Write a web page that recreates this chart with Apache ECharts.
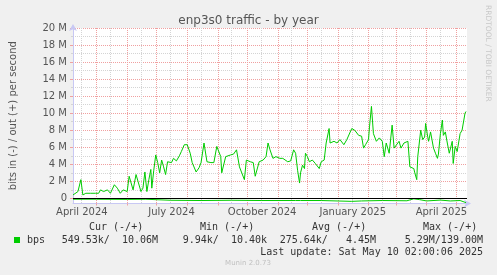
<!DOCTYPE html>
<html>
<head>
<meta charset="utf-8">
<script src="https://cdn.jsdelivr.net/npm/echarts@6/dist/echarts.min.js"></script>
<style>
  html, body { margin: 0; padding: 0; background: #f0f0f0; }
  #chart { width: 497px; height: 275px; }
</style>
</head>
<body>
<div id="chart"></div>
<script>
// munin yearly traffic graph, values in Mbit/s
const outDates = [
  '2024-04-07','2024-04-12','2024-04-15','2024-04-17','2024-04-20','2024-04-25','2024-04-30',
  '2024-05-03','2024-05-05','2024-05-08','2024-05-12','2024-05-15','2024-05-19','2024-05-22','2024-05-23','2024-05-25','2024-05-28',
  '2024-06-01','2024-06-03','2024-06-05','2024-06-07','2024-06-10','2024-06-12','2024-06-15','2024-06-17','2024-06-19','2024-06-21',
  '2024-06-23','2024-06-25','2024-06-26','2024-06-28','2024-06-30',
  '2024-07-02','2024-07-04','2024-07-06','2024-07-08','2024-07-10','2024-07-12','2024-07-14','2024-07-16','2024-07-18','2024-07-21',
  '2024-07-24','2024-07-26','2024-07-29',
  '2024-08-01','2024-08-04','2024-08-06','2024-08-10','2024-08-13','2024-08-15','2024-08-18','2024-08-21','2024-08-25','2024-08-28','2024-08-31',
  '2024-09-04','2024-09-05','2024-09-09','2024-09-14','2024-09-17','2024-09-20','2024-09-23','2024-09-25','2024-09-28','2024-09-30',
  '2024-10-04','2024-10-07','2024-10-09','2024-10-13','2024-10-17','2024-10-20','2024-10-22','2024-10-24','2024-10-27','2024-10-30',
  '2024-11-03','2024-11-06','2024-11-11','2024-11-14','2024-11-17','2024-11-19','2024-11-21','2024-11-23','2024-11-24','2024-11-26',
  '2024-11-28','2024-11-29',
  '2024-12-01','2024-12-03','2024-12-06','2024-12-09','2024-12-11','2024-12-13','2024-12-15','2024-12-18','2024-12-20','2024-12-22',
  '2024-12-23','2024-12-24','2024-12-28','2024-12-31',
  '2025-01-03','2025-01-07','2025-01-10','2025-01-12','2025-01-15','2025-01-18','2025-01-22','2025-01-25','2025-01-27','2025-01-29',
  '2025-02-01','2025-02-02','2025-02-04','2025-02-06','2025-02-09','2025-02-12','2025-02-15','2025-02-17','2025-02-19','2025-02-22',
  '2025-02-25','2025-02-27',
  '2025-03-01','2025-03-04','2025-03-06','2025-03-09','2025-03-13','2025-03-14','2025-03-15','2025-03-19','2025-03-20','2025-03-22',
  '2025-03-23','2025-03-26','2025-03-28','2025-03-30','2025-03-31',
  '2025-04-02','2025-04-03','2025-04-05','2025-04-08','2025-04-10','2025-04-12','2025-04-13','2025-04-15','2025-04-17','2025-04-18',
  '2025-04-20','2025-04-22','2025-04-24','2025-04-27','2025-04-28','2025-04-30',
  '2025-05-02','2025-05-05','2025-05-07','2025-05-08','2025-05-10','2025-05-11'
];
const outValues = [
  0.4,0.8,2.2,0.4,0.6,0.6,0.6,
  0.6,1.0,0.8,1.0,0.6,1.6,1.2,1.4,0.6,1.0,
  0.8,2.6,2.4,1.0,2.8,2.0,0.8,1.2,3.1,0.8,
  2.2,3.4,1.2,3.3,5.1,
  4.2,3.0,4.5,3.7,2.8,4.3,4.5,4.2,4.7,4.4,
  5.0,5.5,6.3,
  6.3,5.3,4.2,3.1,3.6,4.2,6.5,4.3,4.2,4.2,6.1,
  4.9,3.0,4.9,5.1,5.2,5.7,3.7,3.5,2.2,4.5,
  4.3,4.2,2.6,4.3,4.5,4.9,6.5,5.7,4.7,4.9,
  4.7,4.7,4.3,4.4,5.7,5.3,3.3,1.8,3.0,3.9,
  3.5,5.3,
  4.9,4.3,4.5,4.1,3.9,3.5,4.3,4.5,6.5,6.4,
  8.2,6.5,6.7,6.5,
  6.9,6.3,6.9,7.1,8.2,8.0,7.4,7.3,5.9,6.3,
  6.9,8.4,10.8,7.6,6.7,7.1,6.7,4.9,6.5,5.3,
  8.6,5.9,
  6.1,6.7,5.9,6.5,6.7,6.5,3.7,3.5,3.0,2.2,
  4.9,8.0,6.9,7.2,8.8,
  7.3,6.7,7.8,5.9,5.3,4.7,5.2,7.6,9.2,7.4,
  7.8,6.5,5.3,6.7,4.1,6.1,
  5.5,7.6,8.0,7.8,10.0,10.2
];
const inDates = [
  '2024-04-07','2024-05-01','2024-06-01','2024-06-20','2024-06-22','2024-07-15','2024-08-15','2024-09-15',
  '2024-10-15','2024-11-19','2024-11-21','2024-11-24','2024-12-15','2025-01-15','2025-01-25','2025-02-15',
  '2025-03-12','2025-03-19','2025-03-25','2025-04-01','2025-04-15','2025-04-25','2025-05-05','2025-05-11'
];
const inValues = [
  -0.1,-0.1,-0.12,-0.1,-0.22,-0.22,-0.25,-0.22,
  -0.25,-0.25,-0.1,-0.25,-0.25,-0.35,-0.3,-0.25,
  -0.28,-0.05,-0.15,-0.3,-0.2,-0.3,-0.25,-0.5
];
const yMajorTicks = [0, 2, 4, 6, 8, 10, 12, 14, 16, 18, 20];
const yMinorTicks = [1, 3, 5, 7, 9, 11, 13, 15, 17, 19];
const monthNames = ['January','February','March','April','May','June','July','August','September','October','November','December'];
const labelMonths = [0, 3, 6, 9];

// one category per day for the time grid, 2024-04-07 .. 2025-05-12
const pad = n => (n < 10 ? '0' : '') + n;
const days = [];
for (let i = 0; i <= 400; i++) {
  const d = new Date(2024, 3, 7 + i);
  days.push(d.getFullYear() + '-' + pad(d.getMonth() + 1) + '-' + pad(d.getDate()));
}
const dayOf = v => +v.slice(8, 10);
const monthOf = v => +v.slice(5, 7) - 1;

const chart = echarts.init(document.getElementById('chart'));
const textColor = '#555';
const majorColor = '#f0a0a0';
const minorColor = '#d4d4d4';
const axisColor = '#c8c8f4';

chart.setOption({
  animation: false,
  backgroundColor: '#f0f0f0',
  title: {
    text: 'enp3s0 traffic - by year',
    left: 'center',
    top: 10,
    textStyle: { fontFamily: 'DejaVu Sans', fontSize: 12, fontWeight: 'normal', color: textColor }
  },
  grid: { left: 67, right: 30, top: 28, bottom: 71.5, show: true, backgroundColor: '#fff', borderWidth: 0 },
  xAxis: [
    {
      type: 'time',
      min: +new Date(2024, 3, 7),
      max: +new Date(2025, 4, 12),
      show: false
    },
    {
      type: 'category', data: days, boundaryGap: false, position: 'bottom',
      axisLine: { show: false },
      axisTick: { show: true, length: 2, interval: (i, v) => dayOf(v) === 15, lineStyle: { color: minorColor } },
      axisLabel: { show: false },
      splitLine: { show: true, interval: (i, v) => dayOf(v) === 15, lineStyle: { color: minorColor, type: 'dotted' } }
    },
    {
      type: 'category', data: days, boundaryGap: false, position: 'bottom',
      axisLine: { show: true, symbol: ['none', 'arrow'], symbolSize: [6, 7], symbolOffset: [0, 4], lineStyle: { color: axisColor } },
      axisTick: { show: true, length: 2, interval: (i, v) => dayOf(v) === 1, lineStyle: { color: majorColor } },
      axisLabel: {
        interval: (i, v) => dayOf(v) === 16 && labelMonths.indexOf(monthOf(v)) >= 0,
        formatter: v => monthNames[monthOf(v)] + ' ' + v.slice(0, 4),
        margin: 4,
        color: textColor, fontFamily: 'DejaVu Sans', fontSize: 10
      },
      splitLine: { show: true, interval: (i, v) => dayOf(v) === 1, lineStyle: { color: majorColor, type: 'dotted' } }
    }
  ],
  yAxis: [
    {
      type: 'value', min: -0.6, max: 20,
      axisLine: { show: false },
      axisTick: { show: true, length: 2, customValues: yMinorTicks, lineStyle: { color: minorColor } },
      axisLabel: { show: false, customValues: yMinorTicks },
      splitLine: { show: true, lineStyle: { color: minorColor, type: 'dotted' } }
    },
    {
      type: 'value', min: -0.6, max: 20, position: 'left',
      name: 'bits in (-) / out (+) per second',
      nameLocation: 'middle', nameGap: 55,
      nameTextStyle: { color: textColor, fontFamily: 'DejaVu Sans', fontSize: 10 },
      axisLine: { show: true, symbol: ['none', 'arrow'], symbolSize: [6, 7], symbolOffset: [0, 4], lineStyle: { color: axisColor } },
      axisTick: { show: true, length: 3, customValues: yMajorTicks, lineStyle: { color: majorColor } },
      axisLabel: {
        customValues: yMajorTicks,
        formatter: v => (v === 0 ? '0' : v + ' M'),
        margin: 6,
        color: textColor, fontFamily: 'DejaVu Sans', fontSize: 10
      },
      splitLine: { show: true, lineStyle: { color: majorColor, type: 'dotted' } }
    }
  ],
  series: [
    {
      name: 'out', type: 'line', xAxisIndex: 0, yAxisIndex: 1,
      data: outDates.map((d, i) => [d, outValues[i]]),
      showSymbol: false, symbol: 'none',
      lineStyle: { color: '#00cc00', width: 1 },
      markLine: {
        silent: true, symbol: 'none', label: { show: false },
        lineStyle: { color: '#000', width: 1, type: 'solid' },
        data: [{ yAxis: 0 }]
      }
    },
    {
      name: 'in', type: 'line', xAxisIndex: 0, yAxisIndex: 1,
      data: inDates.map((d, i) => [d, inValues[i]]),
      showSymbol: false, symbol: 'none',
      lineStyle: { color: '#00cc00', width: 1 }
    }
  ],
  graphic: [
    {
      type: 'text', x: 488, y: 5, rotation: -Math.PI / 2,
      style: { text: 'RRDTOOL / TOBI OETIKER', fontFamily: 'DejaVu Sans', fontSize: 7.5, fill: '#c8c8c8', textAlign: 'left', textVerticalAlign: 'middle' }
    },
    { type: 'text', x: 89, y: 227, style: { text: 'Cur (-/+)', font: '10px "DejaVu Sans Mono"', fill: '#333', textVerticalAlign: 'middle' } },
    { type: 'text', x: 200, y: 227, style: { text: 'Min (-/+)', font: '10px "DejaVu Sans Mono"', fill: '#333', textVerticalAlign: 'middle' } },
    { type: 'text', x: 312, y: 227, style: { text: 'Avg (-/+)', font: '10px "DejaVu Sans Mono"', fill: '#333', textVerticalAlign: 'middle' } },
    { type: 'text', x: 423, y: 227, style: { text: 'Max (-/+)', font: '10px "DejaVu Sans Mono"', fill: '#333', textVerticalAlign: 'middle' } },
    { type: 'rect', shape: { x: 14, y: 237, width: 6, height: 6 }, style: { fill: '#00cc00' } },
    { type: 'text', x: 27, y: 240, style: { text: 'bps', font: '10px "DejaVu Sans Mono"', fill: '#333', textVerticalAlign: 'middle' } },
    { type: 'text', x: 158, y: 240, style: { text: '549.53k/  10.06M', font: '10px "DejaVu Sans Mono"', fill: '#333', textAlign: 'right', textVerticalAlign: 'middle' } },
    { type: 'text', x: 267, y: 240, style: { text: '9.94k/  10.40k', font: '10px "DejaVu Sans Mono"', fill: '#333', textAlign: 'right', textVerticalAlign: 'middle' } },
    { type: 'text', x: 376, y: 240, style: { text: '275.64k/   4.45M', font: '10px "DejaVu Sans Mono"', fill: '#333', textAlign: 'right', textVerticalAlign: 'middle' } },
    { type: 'text', x: 483, y: 240, style: { text: '5.29M/139.00M', font: '10px "DejaVu Sans Mono"', fill: '#333', textAlign: 'right', textVerticalAlign: 'middle' } },
    { type: 'text', x: 483, y: 252, style: { text: 'Last update: Sat May 10 02:00:06 2025', font: '10px "DejaVu Sans Mono"', fill: '#333', textAlign: 'right', textVerticalAlign: 'middle' } },
    { type: 'text', x: 248, y: 263, style: { text: 'Munin 2.0.73', font: '7px "DejaVu Sans"', fill: '#c0c0c0', textAlign: 'center', textVerticalAlign: 'middle' } }
  ]
});
</script>
</body>
</html>
